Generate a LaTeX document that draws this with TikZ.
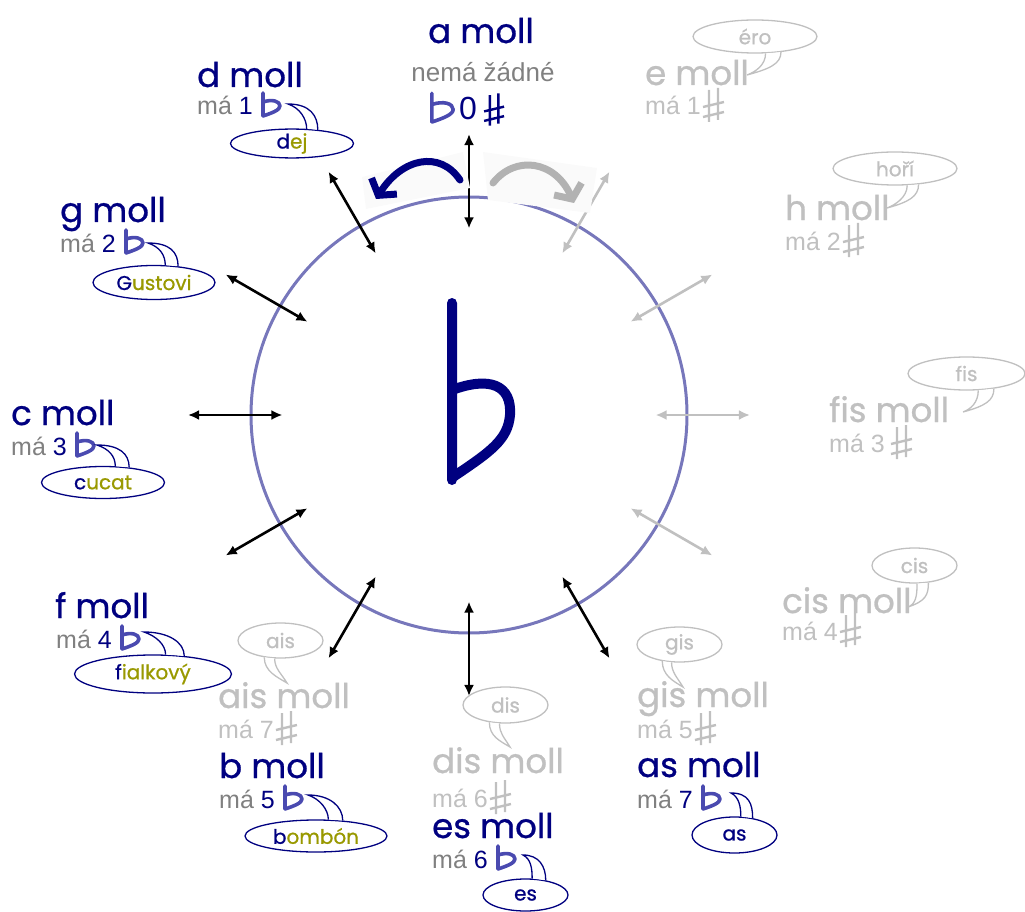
\documentclass[tikz,border=0pt]{standalone}
\usepackage{fontspec}
\setmainfont{Liberation Sans}
\newfontfamily\comicfont{Poppins}[FakeBold=0.8]
\usetikzlibrary{shapes.geometric,arrows.meta,calc}

\begin{document}
\begin{tikzpicture}[x=1pt, y=-1pt,
  moll/.style={anchor=base west, inner sep=0, text=#1,
               font=\comicfont\fontsize{34}{36}\selectfont},
  sig/.style={anchor=base west, inner sep=0, text=#1,
              font=\fontsize{25}{28}\selectfont},
  bubble/.style={ellipse, draw=#1, fill=white, line width=1.3pt, inner sep=0,
                 text=#1, font=\comicfont\fontsize{20}{22}\selectfont},
  bubtail/.style={draw=#1, fill=white, line width=1.3pt},
  arrow/.style={<->, >={Latex[length=11pt,width=10pt]}, line width=2.6pt, draw=#1},
  flatsign/.pic={
    \draw[flatblue, line width=3.6pt, line cap=round, line join=round]
      (0,-23) -- (0,0)
      (0,-14) .. controls (9,-17) and (17,-15) .. (17,-10)
              .. controls (17,-6) and (9,-3) .. (0,0);
  },
  sharpsign/.pic={
    \draw[line width=2.4pt, pic actions]
      (6,-25) -- (6,7) (15,-27) -- (15,5)
      (0,-8) -- (21,-13) (0,2) -- (21,-3);
  },
]
\useasboundingbox (0,0) rectangle (1025,912);

\definecolor{mollblue}{HTML}{000080}
\definecolor{mollgray}{HTML}{808080}
\definecolor{keygray}{HTML}{C0C0C0}
\definecolor{olivetxt}{HTML}{999900}
\definecolor{ringblue}{HTML}{7777BB}
\definecolor{flatblue}{HTML}{4A4AB0}

% ── Circle and big flat ──
\node[circle, draw=ringblue, line width=3pt, minimum size=436pt, inner sep=0] (ring) at (469,415) {};
\draw[mollblue, line width=10pt, line cap=round, line join=round]
  (452,303) -- (452,480)
  (452,390) .. controls (490,376) and (512,385) .. (510,415)
            .. controls (508,440) and (490,452) .. (453,477);

% ── Double arrows ──
\foreach \a in {90,120,150,180,210,240,270,300} {
  \coordinate (in\a) at ($(ring.center)!0.85!(ring.\a)$);
  \coordinate (out\a) at ($(ring.center)!1.28!(ring.\a)$);
  \draw[arrow=black] (out\a) -- (in\a);
}
\foreach \a in {60,30,0,-30} {
  \coordinate (in\a) at ($(ring.center)!0.85!(ring.\a)$);
  \coordinate (out\a) at ($(ring.center)!1.28!(ring.\a)$);
  \draw[arrow=keygray] (out\a) -- (in\a);
}

% ── Turn arrows ──
\fill[black!2] (362,177) -- (463,152) -- (470,188) -- (366,209) -- cycle;
\fill[black!2] (483,152) -- (597,168) -- (590,213) -- (488,200) -- cycle;
\coordinate (leftfrom) at (460,180);
\coordinate (leftto) at (376,199);
\coordinate (rightfrom) at (493,183);
\coordinate (rightto) at (574,203);
\draw[mollblue, line width=7pt, line cap=round,
      -{Straight Barb[length=11pt,width=30pt]}]
  (leftfrom) .. controls (440,150) and (402,158) .. (leftto);
\draw[black!30, line width=7pt, line cap=round,
      -{Straight Barb[length=11pt,width=30pt]}]
  (rightfrom) .. controls (515,155) and (555,160) .. (rightto);

% ── a moll ──
\node[moll=mollblue, anchor=base] (amoll) at (481,43) {a moll};
\node[sig=mollgray, anchor=base, font=\fontsize{26}{28}\selectfont] (asig) at (483,82) {nemá žádné};
\node[anchor=base, inner sep=0, text=mollblue, font=\fontsize{32}{34}\selectfont] (azero) at (468,120) {0};
\pic[scale=1.25] at ($(azero.base west)+(-27,2)$) {flatsign};
\pic[draw=mollblue, scale=0.95] at ($(azero.base east)+(7,-1)$) {sharpsign};

% ── Flat keys ──
\node[moll=mollblue] (dmoll) at (197,87) {d moll};
\node[sig=mollgray] (dsig) at (197,115) {má {\color{mollblue}1}};
\pic at ($(dsig.base east)+(10,1)$) {flatsign};
\node[moll=mollblue] (gmoll) at (60,222) {g moll};
\node[sig=mollgray] (gsig) at (60,252) {má {\color{mollblue}2}};
\pic at ($(gsig.base east)+(10,1)$) {flatsign};
\node[moll=mollblue] (cmoll) at (11,425) {c moll};
\node[sig=mollgray] (csig) at (11,455) {má {\color{mollblue}3}};
\pic at ($(csig.base east)+(10,1)$) {flatsign};
\node[moll=mollblue] (fmoll) at (55,618) {f moll};
\node[sig=mollgray] (fsig) at (56,648) {má {\color{mollblue}4}};
\pic at ($(fsig.base east)+(10,1)$) {flatsign};
\node[moll=mollblue] (bmoll) at (219,778) {b moll};
\node[sig=mollgray] (bsig) at (219,808) {má {\color{mollblue}5}};
\pic at ($(bsig.base east)+(10,1)$) {flatsign};
\node[moll=mollblue] (esmoll) at (432,838) {es moll};
\node[sig=mollgray] (essig) at (432,868) {má {\color{mollblue}6}};
\pic at ($(essig.base east)+(10,1)$) {flatsign};
\node[moll=mollblue] (asmoll) at (637,777) {as moll};
\node[sig=mollgray] (assig) at (637,808) {má {\color{mollblue}7}};
\pic at ($(assig.base east)+(10,1)$) {flatsign};

% ── Sharp keys ──
\node[moll=keygray] (emoll) at (645,85) {e moll};
\node[sig=keygray] (esig) at (645,115) {má 1};
\pic[draw=keygray] at ($(esig.base east)+(2,0)$) {sharpsign};
\node[moll=keygray] (hmoll) at (785,220) {h moll};
\node[sig=keygray] (hsig) at (785,250) {má 2};
\pic[draw=keygray] at ($(hsig.base east)+(2,0)$) {sharpsign};
\node[moll=keygray] (fismoll) at (829,422) {fis moll};
\node[sig=keygray] (fissig) at (829,452) {má 3};
\pic[draw=keygray] at ($(fissig.base east)+(6,0)$) {sharpsign};
\node[moll=keygray] (cismoll) at (782,613) {cis moll};
\node[sig=keygray] (cissig) at (782,640) {má 4};
\pic[draw=keygray] at ($(cissig.base east)+(2,0)$) {sharpsign};
\node[moll=keygray] (gismoll) at (637,707) {gis moll};
\node[sig=keygray] (gissig) at (637,738) {má 5};
\pic[draw=keygray] at ($(gissig.base east)+(2,0)$) {sharpsign};
\node[moll=keygray] (dismoll) at (432,773) {dis moll};
\node[sig=keygray] (dissig) at (432,807) {má 6};
\pic[draw=keygray] at ($(dissig.base east)+(2,0)$) {sharpsign};
\node[moll=keygray] (aismoll) at (218,708) {ais moll};
\node[sig=keygray] (aissig) at (218,738) {má 7};
\pic[draw=keygray] at ($(aissig.base east)+(2,0)$) {sharpsign};

% ── Flat bubbles ──
\node[bubble=mollblue, minimum width=123pt, minimum height=28pt] (dbub) at (292,143.5)
  {d{\color{olivetxt}ej}};
\coordinate (dtip) at (288,104);
\draw[bubtail=mollblue] (dbub.45) .. controls +(0,-10) and +(12,4) .. (dtip)
  .. controls +(22,0) and +(0,-14) .. (dbub.28);

\node[bubble=mollblue, minimum width=122pt, minimum height=34pt] (gbub) at (154,282.5)
  {G{\color{olivetxt}ustovi}};
\coordinate (gtip) at (148,243);
\draw[bubtail=mollblue] (gbub.57) .. controls +(0,-10) and +(12,4) .. (gtip)
  .. controls +(22,0) and +(0,-14) .. (gbub.34);

\node[bubble=mollblue, minimum width=123pt, minimum height=32pt] (cbub) at (103,482.5)
  {c{\color{olivetxt}ucat}};
\coordinate (ctip) at (97,445);
\draw[bubtail=mollblue] (cbub.53) .. controls +(0,-10) and +(12,4) .. (ctip)
  .. controls +(22,0) and +(0,-14) .. (cbub.30);

\node[bubble=mollblue, minimum width=157pt, minimum height=38pt] (fbub) at (153,674)
  {f{\color{olivetxt}ialkový}};
\coordinate (ftip) at (144,632);
\draw[bubtail=mollblue] (fbub.57) .. controls +(0,-10) and +(12,4) .. (ftip)
  .. controls +(24,0) and +(0,-14) .. (fbub.30);

\node[bubble=mollblue, minimum width=142pt, minimum height=32pt] (bbub) at (316,836)
  {b{\color{olivetxt}ombón}};
\coordinate (btip) at (308,795);
\draw[bubtail=mollblue] (bbub.53) .. controls +(0,-10) and +(12,4) .. (btip)
  .. controls +(22,0) and +(0,-14) .. (bbub.30);

\node[bubble=mollblue, minimum width=85pt, minimum height=32pt] (esbub) at (525.5,895) {es};
\coordinate (estip) at (523,855);
\draw[bubtail=mollblue] (esbub.68) .. controls +(0,-10) and +(8,4) .. (estip)
  .. controls +(16,0) and +(0,-14) .. (esbub.36);

\node[bubble=mollblue, minimum width=85pt, minimum height=36pt] (asbub) at (734.5,835) {as};
\coordinate (astip) at (731,793);
\draw[bubtail=mollblue] (asbub.71) .. controls +(0,-10) and +(8,4) .. (astip)
  .. controls +(18,0) and +(0,-14) .. (asbub.43);

% ── Sharp bubbles ──
\node[bubble=keygray, minimum width=124pt, minimum height=33pt] (ebub) at (755,36.5) {éro};
\coordinate (etip) at (747,75);
\draw[bubtail=keygray] (ebub.-58) .. controls +(0,12) and +(8,-3) .. (etip)
  .. controls +(22,-6) and +(0,12) .. (ebub.-31);

\node[bubble=keygray, minimum width=124pt, minimum height=33pt] (hbub) at (895,168.5) {hoří};
\coordinate (htip) at (887,208);
\draw[bubtail=keygray] (hbub.-54) .. controls +(0,12) and +(8,-3) .. (htip)
  .. controls +(22,-6) and +(0,12) .. (hbub.-34);

\node[bubble=keygray, minimum width=117pt, minimum height=33pt] (fisbub) at (966.5,373.5) {fis};
\coordinate (fistip) at (963,412);
\draw[bubtail=keygray] (fisbub.-55) .. controls +(0,12) and +(8,-3) .. (fistip)
  .. controls +(22,-6) and +(0,12) .. (fisbub.-29);

\node[bubble=keygray, minimum width=85pt, minimum height=35pt] (cisbub) at (914.5,565.5) {cis};
\coordinate (cistip) at (908,607);
\draw[bubtail=keygray] (cisbub.-82) .. controls +(0,12) and +(8,-3) .. (cistip)
  .. controls +(18,-6) and +(0,12) .. (cisbub.-51);

\node[bubble=keygray, minimum width=85pt, minimum height=35pt] (gisbub) at (679.5,644.5) {gis};
\coordinate (gistip) at (683,687);
\draw[bubtail=keygray] (gisbub.-136) .. controls +(0,14) and +(-10,-6) .. (gistip)
  .. controls +(-6,-10) and +(0,10) .. (gisbub.-114);

\node[bubble=keygray, minimum width=85pt, minimum height=36pt] (disbub) at (505.5,705) {dis};
\coordinate (distip) at (510,747);
\draw[bubtail=keygray] (disbub.-133) .. controls +(0,14) and +(-10,-6) .. (distip)
  .. controls +(-6,-10) and +(0,10) .. (disbub.-108);

\node[bubble=keygray, minimum width=85pt, minimum height=35pt] (aisbub) at (280.5,640.5) {ais};
\coordinate (aistip) at (287,683);
\draw[bubtail=keygray] (aisbub.-134) .. controls +(0,14) and +(-10,-6) .. (aistip)
  .. controls +(-6,-10) and +(0,10) .. (aisbub.-108);

\end{tikzpicture}
\end{document}
